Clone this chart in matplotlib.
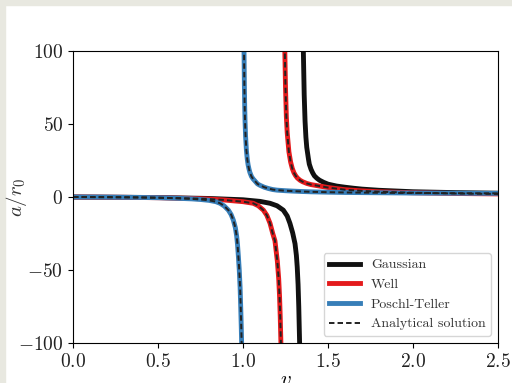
import numpy as np
import matplotlib
matplotlib.use('Agg')
import matplotlib.pyplot as plt
from matplotlib.patches import Rectangle

plt.rcParams['font.family'] = 'serif'
plt.rcParams['font.serif'] = ['cmr10']
plt.rcParams['mathtext.fontset'] = 'cm'
plt.rcParams['axes.formatter.use_mathtext'] = True

# values, each curve split at its pole
gauss_v_lo = [0.0, 0.5, 0.8, 1.0, 1.1, 1.159, 1.2, 1.237, 1.26, 1.276, 1.292, 1.306, 1.314,
              1.319, 1.324, 1.328, 1.331, 1.333, 1.334]
gauss_a_lo = [0.0, -0.35, -1.0, -1.9, -3.0, -4.3, -6.0, -9.0, -13, -18, -24.5, -32, -40,
              -48, -60, -75, -90, -100, -110]
gauss_v_hi = [1.354, 1.355, 1.36, 1.365, 1.37, 1.375, 1.38, 1.385, 1.39, 1.40, 1.41, 1.42, 1.435, 1.45,
              1.475, 1.5, 1.55, 1.6, 1.65, 1.7, 1.8, 2.0, 2.25, 2.5]
gauss_a_hi = [110, 100, 70, 52, 41, 34, 30, 26, 22.5, 19, 16.5, 14.5, 12.8, 11.5,
              10, 8.8, 7.5, 6.7, 6.0, 5.4, 4.6, 3.6, 3.0, 2.6]

well_v_lo = [0.0, 0.3, 0.5, 0.7, 0.8, 0.885, 0.95, 1.0, 1.06, 1.09, 1.12, 1.14, 1.159, 1.175,
             1.188, 1.202, 1.21, 1.215, 1.219, 1.223, 1.224]
well_a_lo = [0.0, -0.2, -0.5, -1.0, -1.4, -2.0, -2.7, -3.2, -4.3, -6.0, -9.0, -12.5, -18, -25,
             -30, -44, -56, -68, -82, -100, -110]
well_v_hi = [1.245, 1.246, 1.25, 1.255, 1.26, 1.27, 1.28, 1.29, 1.30, 1.31, 1.32, 1.335, 1.35, 1.375,
             1.4, 1.45, 1.5, 1.6, 1.7, 1.8, 2.0, 2.25, 2.5]
well_a_hi = [110, 100, 75, 55, 44, 31, 24, 19.5, 16.5, 14.5, 13, 11.5, 10.5, 9.3,
             8.5, 7.5, 6.5, 5.0, 4.2, 3.6, 2.9, 2.4, 2.1]

pt_v_lo = [0.0, 0.2, 0.4, 0.5, 0.6, 0.7, 0.75, 0.8, 0.84, 0.865, 0.89, 0.914, 0.93, 0.943, 0.955,
           0.963, 0.968, 0.973, 0.978, 0.983, 0.987, 0.99, 0.992, 0.993]
pt_a_lo = [0.0, -0.1, -0.3, -0.5, -0.8, -1.3, -1.7, -2.3, -3.2, -4.3, -6.2, -9.0, -12, -15.8, -21,
           -27, -33, -41, -50, -62, -77, -90, -100, -110]
pt_v_hi = [1.005, 1.006, 1.008, 1.01, 1.012, 1.015, 1.02, 1.025, 1.03, 1.035, 1.04, 1.045, 1.05, 1.06,
           1.07, 1.085, 1.1, 1.125, 1.15, 1.175, 1.2, 1.25, 1.3, 1.35, 1.4, 1.5, 1.6, 1.8, 2.0, 2.25, 2.5]
pt_a_hi = [115, 100, 77, 62, 52, 42, 32, 26, 22, 19.3, 17, 15.5, 14, 12.3,
           11, 9.0, 8.0, 6.7, 5.8, 5.1, 4.7, 4.3, 4.0, 3.75, 3.55, 3.3, 3.1, 2.9, 2.7, 2.6, 2.5]

labels = ['Gaussian', 'Well', 'Poschl-Teller', 'Analytical solution']
colors = ['#111111', '#e41a1c', '#377eb8']

fig = plt.figure(figsize=(5.12, 3.83), dpi=100)
fig.patches.append(Rectangle((0, 1 - 5/383), 1, 5/383, transform=fig.transFigure,
                             color='#e8e8e0', zorder=-1))
fig.patches.append(Rectangle((0, 0), 5/512, 1, transform=fig.transFigure,
                             color='#e8e8e0', zorder=-1))
ax = fig.add_axes([73/512, 1 - 343/383, 425/512, 292/383])

lw = 3.5
ax.plot(gauss_v_lo, gauss_a_lo, color=colors[0], lw=lw, label=labels[0])
ax.plot(gauss_v_hi, gauss_a_hi, color=colors[0], lw=lw)
ax.plot(well_v_lo, well_a_lo, color=colors[1], lw=lw, label=labels[1])
ax.plot(well_v_hi, well_a_hi, color=colors[1], lw=lw)
ax.plot(pt_v_lo, pt_a_lo, color=colors[2], lw=lw, label=labels[2])
ax.plot(pt_v_hi, pt_a_hi, color=colors[2], lw=lw)

dash = dict(color='#222222', lw=1.4, ls=(0, (2.8, 1.6)))
ax.plot(well_v_lo, well_a_lo, **dash, label=labels[3])
ax.plot(well_v_hi, well_a_hi, **dash)
ax.plot(pt_v_lo, pt_a_lo, **dash)
ax.plot(pt_v_hi, pt_a_hi, **dash)

ax.set_xlim(0, 2.5)
ax.set_ylim(-100, 100)
ax.set_xticks([0.0, 0.5, 1.0, 1.5, 2.0, 2.5])
ax.set_yticks([-100, -50, 0, 50, 100])
ax.tick_params(labelsize=14, labelcolor='#222222')
ax.set_xlabel('$v$', fontsize=15, labelpad=0)
ax.set_ylabel('$a/r_0$', fontsize=15, color='#333333')
ax.yaxis.set_label_coords(-0.103, 0.5)
ax.legend(loc='lower right', fontsize=10, labelcolor='#333333', handlelength=2.2)

fig.savefig('out.png', dpi=100)
